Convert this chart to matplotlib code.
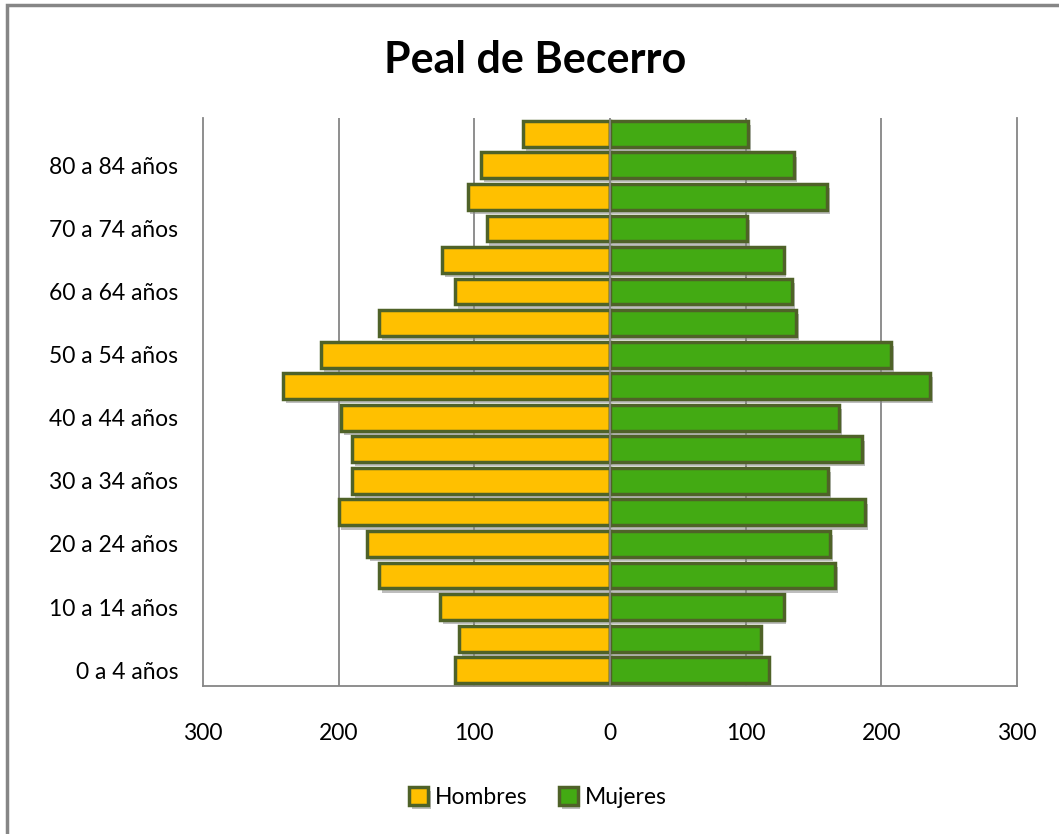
import numpy as np
import matplotlib
matplotlib.use("Agg")
import matplotlib.pyplot as plt
import matplotlib.patheffects as pe
from matplotlib.patches import Rectangle
from matplotlib.ticker import FuncFormatter

plt.rcParams['font.family'] = ['Lato', 'DejaVu Sans']

# grupos de edad, de abajo hacia arriba
edades = ["0 a 4 años", "5 a 9 años", "10 a 14 años", "15 a 19 años",
          "20 a 24 años", "25 a 29 años", "30 a 34 años", "35 a 39 años",
          "40 a 44 años", "45 a 49 años", "50 a 54 años", "55 a 59 años",
          "60 a 64 años", "65 a 69 años", "70 a 74 años", "75 a 79 años",
          "80 a 84 años", "85 años y más"]
hombres = [114, 111, 125, 170, 179, 200, 190, 190, 198, 241, 213, 170,
           114, 124, 91, 105, 95, 64]
mujeres = [117, 111, 128, 166, 162, 188, 161, 186, 169, 236, 207, 137,
           134, 128, 101, 160, 136, 102]
x_ticks = [-300, -200, -100, 0, 100, 200, 300]

color_h = "#FFC000"
color_m = "#43AA13"
borde = "#4F6228"

fig = plt.figure(figsize=(10.59, 8.34), dpi=100)
ax = fig.add_axes([0.1917, 0.1775, 0.7686, 0.681])

y = np.arange(len(edades))
sombra = [pe.SimplePatchShadow(offset=(2, -3), shadow_rgbFace="#8a8a8a", alpha=0.55), pe.Normal()]

bh = ax.barh(y, -np.array(hombres), height=0.82, color=color_h, edgecolor=borde,
             linewidth=2.5, label="Hombres", zorder=3)
bm = ax.barh(y, mujeres, height=0.82, color=color_m, edgecolor=borde,
             linewidth=2.5, label="Mujeres", zorder=3)
for b in list(bh) + list(bm):
    b.set_path_effects(sombra)

ax.set_xlim(-300, 300)
ax.set_ylim(-0.5, len(edades) - 0.5)
ax.set_xticks(x_ticks)
ax.xaxis.set_major_formatter(FuncFormatter(lambda v, p: f"{abs(int(v))}"))
ax.set_yticks(y[::2])
ax.set_yticklabels(edades[::2])
ax.tick_params(axis="x", length=0, pad=27, labelsize=16.5)
ax.tick_params(axis="y", length=0, pad=18, labelsize=16.5)

# lineas de guia
for xv in [-200, -100, 100, 200]:
    ax.axvline(xv, color="#868686", linewidth=1.3, zorder=1)
ax.axvline(0, color="#868686", linewidth=1.3, zorder=4)

for s in ["left", "right", "bottom"]:
    ax.spines[s].set_color("#868686")
    ax.spines[s].set_linewidth(1.3)
ax.spines["top"].set_visible(False)

fig.suptitle("Peal de Becerro", x=0.505, y=0.952, fontsize=31, fontweight="bold")

fig.legend(handles=[bh, bm], labels=["Hombres", "Mujeres"], loc="center",
           bbox_to_anchor=(0.508, 0.044), ncol=2, frameon=False, fontsize=16.5,
           handlelength=0.8, handleheight=0.8, handletextpad=0.3, columnspacing=1.4)

# marco del grafico
fig.patches.append(Rectangle((0.0066, -0.01), 1.2, 1.004, transform=fig.transFigure,
                             fill=False, edgecolor="#868686", linewidth=2.5))

fig.savefig("out.png", dpi=100)
